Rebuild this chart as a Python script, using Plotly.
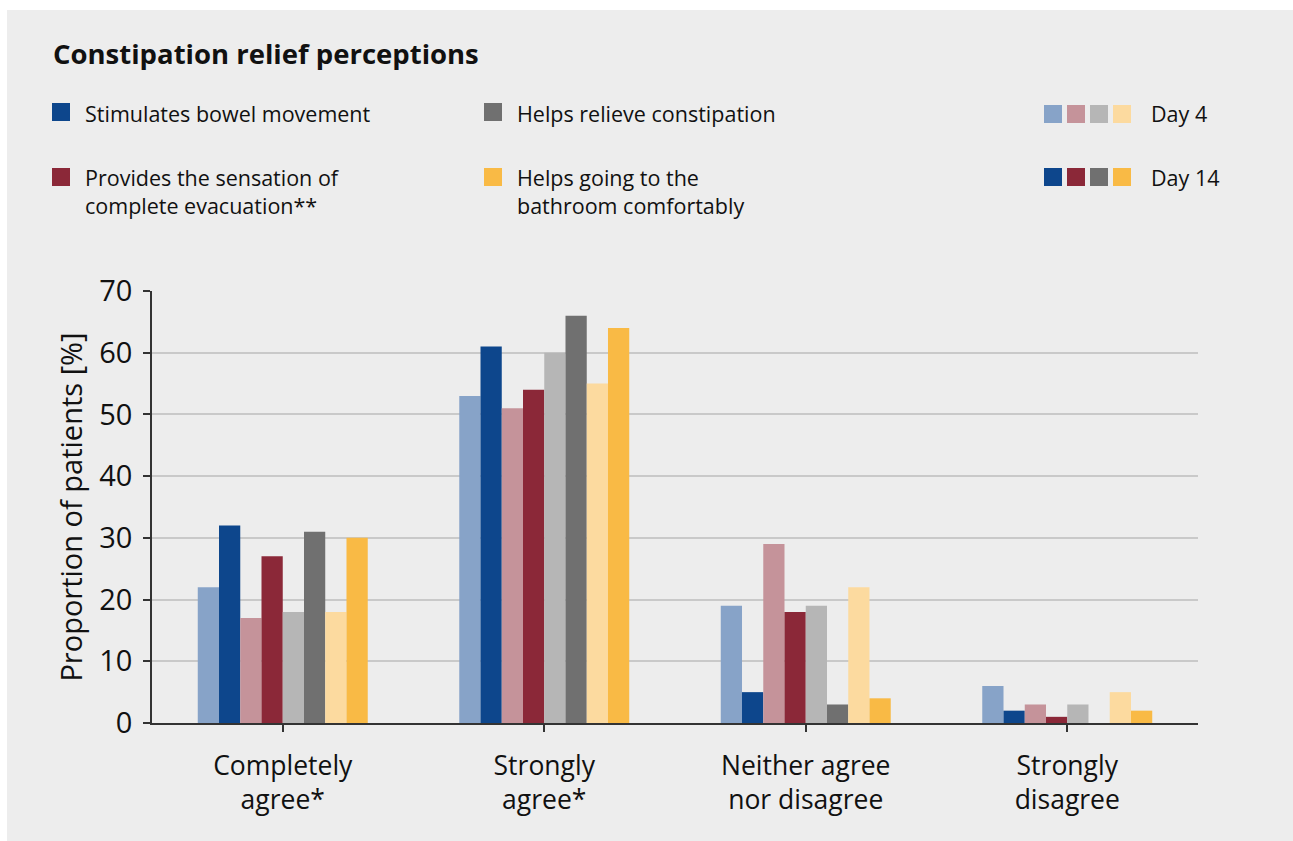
import plotly.graph_objects as go

categories = ["Completely<br>agree*", "Strongly<br>agree*", "Neither agree<br>nor disagree", "Strongly<br>disagree"]

series_names = [
    "Stimulates bowel movement – Day 4",
    "Stimulates bowel movement – Day 14",
    "Provides the sensation of complete evacuation** – Day 4",
    "Provides the sensation of complete evacuation** – Day 14",
    "Helps relieve constipation – Day 4",
    "Helps relieve constipation – Day 14",
    "Helps going to the bathroom comfortably – Day 4",
    "Helps going to the bathroom comfortably – Day 14",
]
bowel_day4 = [22, 53, 19, 6]
bowel_day14 = [32, 61, 5, 2]
evac_day4 = [17, 51, 29, 3]
evac_day14 = [27, 54, 18, 1]
relieve_day4 = [18, 60, 19, 3]
relieve_day14 = [31, 66, 3, 0]
comfort_day4 = [18, 55, 22, 5]
comfort_day14 = [30, 64, 4, 2]
series_values = [bowel_day4, bowel_day14, evac_day4, evac_day14,
                 relieve_day4, relieve_day14, comfort_day4, comfort_day14]
colors = ["#87a3c8", "#0d468c", "#c5939a", "#8b2838",
          "#b6b6b6", "#707070", "#fcda9f", "#f9ba45"]

y_ticks = [0, 10, 20, 30, 40, 50, 60, 70]

FONT = "Open Sans"
W, H = 1293, 841
L, R, T, B = 152, 95, 291, 118
PW, PH = W - L - R, H - T - B

def px(x):
    return (x - L) / PW

def py(y):
    return (H - B - y) / PH

fig = go.Figure()
for name, vals, c in zip(series_names, series_values, colors):
    fig.add_trace(go.Bar(x=categories, y=vals, name=name, marker_color=c,
                         marker_line_width=0, showlegend=False))

shapes = [
    dict(type="rect", xref="paper", yref="paper", x0=px(-5), x1=px(7), y0=py(-5), y1=py(H + 5),
         fillcolor="white", line_width=0, layer="below"),
    dict(type="rect", xref="paper", yref="paper", x0=px(-5), x1=px(W + 5), y0=py(-5), y1=py(10),
         fillcolor="white", line_width=0, layer="below"),
]
annotations = []

def square(x0, y0, color, s=18):
    shapes.append(dict(type="rect", xref="paper", yref="paper", x0=px(x0), x1=px(x0 + s),
                       y0=py(y0 + s), y1=py(y0), fillcolor=color, line_width=0))

def text(x, y, s, size=21.5):
    annotations.append(dict(xref="paper", yref="paper", x=px(x), y=py(y), text=s,
                            showarrow=False, xanchor="left", yanchor="middle", align="left",
                            font=dict(family=FONT, size=size, color="#111111")))

annotations.append(dict(xref="paper", yref="paper", x=px(51), y=py(54),
                        text="<b>Constipation relief perceptions</b>", showarrow=False,
                        xanchor="left", yanchor="middle",
                        font=dict(family=FONT, size=27.5, color="#111111")))

square(52, 103, colors[1]); text(83, 113, "Stimulates bowel movement")
square(484, 103, colors[5]); text(515, 113, "Helps relieve constipation")
square(52, 168, colors[3]); text(83, 192, "Provides the sensation of<br>complete evacuation**")
square(484, 168, colors[7]); text(515, 192, "Helps going to the<br>bathroom comfortably")
for i, c in enumerate([colors[0], colors[2], colors[4], colors[6]]):
    square(1044 + i * 23, 105, c)
for i, c in enumerate([colors[1], colors[3], colors[5], colors[7]]):
    square(1044 + i * 23, 168, c)
text(1149, 114, "Day 4")
text(1149, 177, "Day 14")

fig.update_layout(
    width=W, height=H,
    margin=dict(l=L, r=R, t=T, b=B),
    paper_bgcolor="#ededed", plot_bgcolor="#ededed",
    barmode="group", bargap=0.35, bargroupgap=0,
    font=dict(family=FONT, color="#111111"),
    shapes=shapes, annotations=annotations,
    xaxis=dict(showline=True, linecolor="#333333", linewidth=2,
               ticks="outside", ticklen=7, tickcolor="#333333", tickwidth=2,
               ticklabelstandoff=11,
               tickfont=dict(size=26.5, family=FONT, color="#111111"), showgrid=False),
    yaxis=dict(range=[0, 70], tickvals=y_ticks, showline=True, linecolor="#333333", linewidth=1.5,
               ticks="outside", ticklen=7, tickcolor="#333333", tickwidth=1.5,
               ticklabelstandoff=5,
               showgrid=True, gridcolor="#c9c9c9", gridwidth=2, zeroline=False,
               tickfont=dict(size=29, family=FONT, color="#111111"),
               title=dict(text="Proportion of patients [%]", standoff=8,
                          font=dict(size=29, family=FONT, color="#111111"))),
)

fig.write_html("out.html")
